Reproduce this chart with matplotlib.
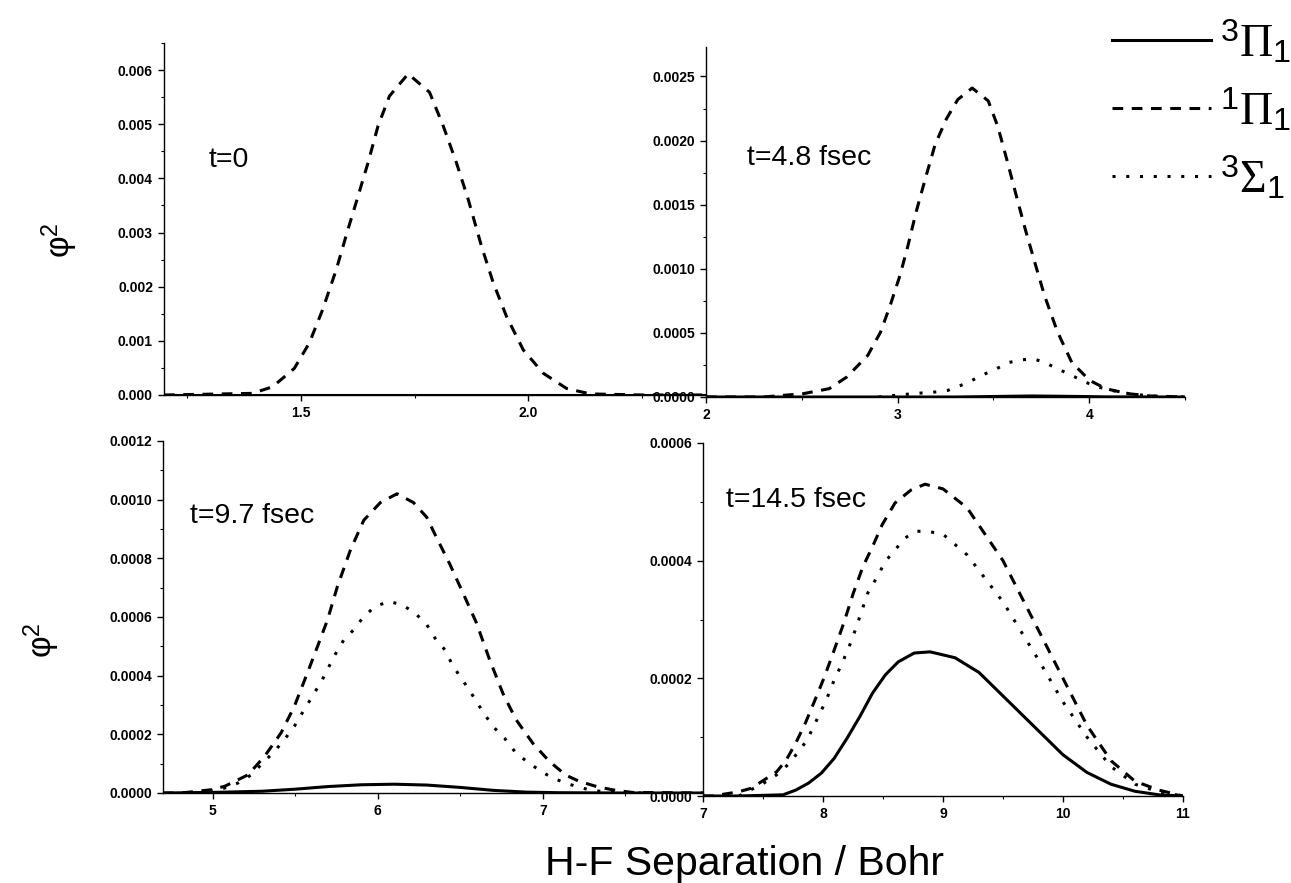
import matplotlib.pyplot as plt
from matplotlib.ticker import MultipleLocator, FormatStrFormatter

plt.rcParams['font.family'] = ['Liberation Sans', 'DejaVu Sans']
plt.rcParams['mathtext.fontset'] = 'custom'
plt.rcParams['mathtext.rm'] = 'Liberation Serif'
plt.rcParams['mathtext.sf'] = 'Liberation Sans'
plt.rcParams['mathtext.it'] = 'Liberation Serif:italic'

# t = 0
x0_pi1 = [1.20, 1.394, 1.438, 1.486, 1.519, 1.548, 1.578, 1.604, 1.626, 1.648, 1.670, 1.695, 1.736,
          1.783, 1.813, 1.842, 1.868, 1.897, 1.923, 1.952, 1.989, 2.033, 2.084, 2.136, 2.25, 2.39]
y0_pi1 = [0.0, 0.00003, 0.00015, 0.00049, 0.00096, 0.00157, 0.00231, 0.00306, 0.00367, 0.00429, 0.00497,
          0.00552, 0.00593, 0.00559, 0.00497, 0.00429, 0.00361, 0.00275, 0.00207, 0.00145, 0.00083,
          0.00040, 0.00012, 0.00002, 0.0, 0.0]
x0_pi3 = [1.20, 1.5, 1.75, 2.0, 2.39]
y0_pi3 = [0.0, 0.0, 0.0, 0.0, 0.0]

# t = 4.8 fsec
x1_pi1 = [2.0, 2.3, 2.508, 2.643, 2.735, 2.844, 2.911, 2.961, 3.012, 3.054, 3.096, 3.146, 3.196, 3.255,
          3.314, 3.389, 3.473, 3.523, 3.574, 3.616, 3.666, 3.716, 3.767, 3.834, 3.909, 4.002, 4.086,
          4.203, 4.32, 4.5]
y1_pi1 = [0.0, 0.0, 0.000026, 0.000065, 0.000156, 0.000324, 0.000506, 0.000713, 0.000946, 0.00118,
          0.00144, 0.00171, 0.00197, 0.00217, 0.00232, 0.00241, 0.00231, 0.00211, 0.00183, 0.00159,
          0.00131, 0.00105, 0.00079, 0.00051, 0.00027, 0.00013, 0.000065, 0.000026, 0.000008, 0.0]
x1_sig = [2.9, 3.079, 3.196, 3.263, 3.331, 3.389, 3.456, 3.515, 3.582, 3.649, 3.708, 3.767, 3.834,
          3.893, 3.96, 4.027, 4.094, 4.17, 4.253, 4.354, 4.5]
y1_sig = [0.0, 0.000026, 0.000039, 0.000052, 0.000091, 0.00013, 0.00018, 0.00022, 0.00027, 0.00029,
          0.000298, 0.00027, 0.00022, 0.00018, 0.00013, 0.000086, 0.00006, 0.000034, 0.000018,
          0.000005, 0.0]
x1_pi3 = [2.0, 3.3, 3.5, 3.7, 3.9, 4.1, 4.5]
y1_pi3 = [0.0, 0.0, 0.000004, 0.000008, 0.000005, 0.000001, 0.0]

# t = 9.7 fsec
x2_pi1 = [4.7, 4.81, 4.99, 5.074, 5.215, 5.315, 5.415, 5.495, 5.575, 5.636, 5.696, 5.756, 5.836, 5.916,
          6.016, 6.117, 6.217, 6.297, 6.357, 6.437, 6.518, 6.598, 6.678, 6.758, 6.838, 6.939, 7.039,
          7.139, 7.219, 7.32, 7.42, 7.54, 7.97]
y2_pi1 = [0.0, 0.0, 0.000011, 0.000023, 0.000062, 0.000125, 0.000205, 0.000295, 0.00041, 0.0005,
          0.00059, 0.000704, 0.00083, 0.00093, 0.00099, 0.00102, 0.00099, 0.00094, 0.00087, 0.00078,
          0.00068, 0.00058, 0.000454, 0.00034, 0.00025, 0.00017, 0.000108, 0.000061, 0.00004,
          0.000023, 0.000011, 0.000002, 0.0]
x2_sig = [4.9, 5.074, 5.154, 5.235, 5.295, 5.375, 5.435, 5.495, 5.555, 5.616, 5.676, 5.736, 5.796,
          5.856, 5.916, 5.986, 6.067, 6.147, 6.227, 6.297, 6.347, 6.407, 6.447, 6.497, 6.547, 6.598,
          6.648, 6.708, 6.768, 6.838, 6.919, 6.989, 7.059, 7.139, 7.199, 7.28, 7.36, 7.6]
y2_sig = [0.0, 0.000017, 0.000034, 0.000062, 0.000097, 0.000142, 0.000182, 0.000227, 0.000284,
          0.00034, 0.000398, 0.000466, 0.000523, 0.000557, 0.000602, 0.000636, 0.000653, 0.000642,
          0.000613, 0.000574, 0.000528, 0.000488, 0.000443, 0.000398, 0.000358, 0.000312, 0.000267,
          0.000221, 0.000187, 0.000136, 0.000101, 0.000074, 0.000051, 0.000034, 0.000023, 0.000011,
          0.000005, 0.0]
x2_pi3 = [4.7, 5.0, 5.3, 5.5, 5.7, 5.9, 6.1, 6.3, 6.5, 6.7, 6.9, 7.1, 7.5, 7.97]
y2_pi3 = [0.0, 0.000002, 0.000006, 0.000013, 0.000022, 0.000028, 0.00003, 0.000027, 0.000019,
          0.000009, 0.000003, 0.000001, 0.0, 0.0]

# t = 14.5 fsec
x3_pi1 = [7.0, 7.08, 7.293, 7.4, 7.507, 7.613, 7.693, 7.773, 7.853, 7.933, 8.013, 8.093, 8.173, 8.253,
          8.333, 8.413, 8.493, 8.6, 8.733, 8.85, 9.0, 9.2, 9.5, 9.8, 10.0, 10.2, 10.4, 10.6, 10.8, 11.0]
y3_pi1 = [0.0, 0.0, 0.000007, 0.000013, 0.000027, 0.000041, 0.000061, 0.00009, 0.000124, 0.000163,
          0.000203, 0.000248, 0.000294, 0.000345, 0.00039, 0.000424, 0.000461, 0.000498, 0.00052,
          0.00053, 0.000522, 0.00049, 0.0004, 0.00028, 0.0002, 0.00012, 0.00006, 0.000025, 0.00001, 0.0]
x3_sig = [7.3, 7.507, 7.613, 7.707, 7.787, 7.867, 7.947, 8.027, 8.093, 8.16, 8.24, 8.307, 8.373, 8.453,
          8.52, 8.6, 8.68, 8.773, 8.867, 9.0, 9.2, 9.5, 9.8, 10.0, 10.2, 10.4, 10.6, 10.8, 11.0]
y3_sig = [0.0, 0.000022, 0.000036, 0.000053, 0.000073, 0.000095, 0.000129, 0.000163, 0.000197,
          0.000226, 0.000265, 0.000305, 0.000345, 0.000373, 0.000399, 0.000418, 0.000438, 0.00045,
          0.00045, 0.000445, 0.00041, 0.00033, 0.00023, 0.00016, 0.0001, 0.00005, 0.00002, 0.000007, 0.0]
x3_pi3 = [7.0, 7.29, 7.667, 7.773, 7.88, 7.987, 8.093, 8.2, 8.307, 8.413, 8.52, 8.627, 8.76, 8.893,
          9.1, 9.3, 9.5, 9.8, 10.0, 10.2, 10.4, 10.6, 10.8, 11.0]
y3_pi3 = [0.0, 0.0, 0.000002, 0.00001, 0.000022, 0.000039, 0.000064, 0.000098, 0.000135, 0.000175,
          0.000206, 0.000228, 0.000243, 0.000245, 0.000235, 0.00021, 0.00017, 0.00011, 0.00007,
          0.00004, 0.00002, 0.000008, 0.000002, 0.0]

labels = [r'$^{\mathsf{3}}\Pi_{\mathsf{1}}$', r'$^{\mathsf{1}}\Pi_{\mathsf{1}}$', r'$^{\mathsf{3}}\Sigma_{\mathsf{1}}$']
times = ['t=0', 't=4.8 fsec', 't=9.7 fsec', 't=14.5 fsec']

W, H = 1291, 883
fig = plt.figure(figsize=(W / 100, H / 100), dpi=100)

def box(l, r, t, b):
    return [l / W, 1 - b / H, (r - l) / W, (b - t) / H]

ax1 = fig.add_axes(box(164, 706, 43, 395))
ax2 = fig.add_axes(box(706, 1185, 47, 397))
ax3 = fig.add_axes(box(163, 703, 441, 793))
ax4 = fig.add_axes(box(703, 1183, 443, 796))

solid = dict(color='black', lw=2.2, ls='-')
dash = dict(color='black', lw=2.2, ls=(0, (3.5, 2.8)))
dot = dict(color='black', lw=2.2, ls=(0, (1, 3.5)))

ax1.plot(x0_pi3, y0_pi3, **solid)
ax1.plot(x0_pi1, y0_pi1, **dash)

ax2.plot(x1_pi3, y1_pi3, **solid)
ax2.plot(x1_sig, y1_sig, **dot)
ax2.plot(x1_pi1, y1_pi1, **dash)

ax3.plot(x2_pi3, y2_pi3, **solid)
ax3.plot(x2_sig, y2_sig, **dot)
ax3.plot(x2_pi1, y2_pi1, **dash)

l1, = ax4.plot(x3_pi3, y3_pi3, **solid)
l3, = ax4.plot(x3_sig, y3_sig, **dot)
l2, = ax4.plot(x3_pi1, y3_pi1, **dash)

def setup(ax, xlim, ylim, xmaj, ymaj, xfmt, yfmt):
    ax.set_xlim(*xlim)
    ax.set_ylim(*ylim)
    ax.xaxis.set_major_locator(MultipleLocator(xmaj))
    ax.xaxis.set_minor_locator(MultipleLocator(xmaj / 2))
    ax.yaxis.set_major_locator(MultipleLocator(ymaj))
    ax.yaxis.set_minor_locator(MultipleLocator(ymaj / 2))
    ax.xaxis.set_major_formatter(FormatStrFormatter(xfmt))
    ax.yaxis.set_major_formatter(FormatStrFormatter(yfmt))
    for s in ['top', 'right']:
        ax.spines[s].set_visible(False)
    for s in ['left', 'bottom']:
        ax.spines[s].set_linewidth(1.0)
    ax.tick_params(which='major', direction='out', length=4, width=1, labelsize=10, pad=4)
    ax.tick_params(which='minor', direction='out', length=2.5, width=0.8)
    for lbl in ax.get_xticklabels() + ax.get_yticklabels():
        lbl.set_fontweight('bold')
    ax.patch.set_alpha(0)

setup(ax1, (1.2, 2.39), (0, 0.0065), 0.5, 0.001, '%.1f', '%.3f')
setup(ax2, (2.0, 4.5), (0, 0.00273), 1, 0.0005, '%d', '%.4f')
setup(ax3, (4.7, 7.97), (0, 0.0012), 1, 0.0002, '%d', '%.4f')
setup(ax4, (7.0, 11.0), (0, 0.0006), 1, 0.0002, '%d', '%.4f')

# panel time labels (pixel positions of text baseline)
for t, (px, py) in zip(times, [(209, 167), (747, 165), (190, 523), (726, 507)]):
    fig.text(px / W, 1 - py / H, t, fontsize=20.5, ha='left', va='baseline')

phi = r'$\mathsf{\varphi}^{\mathsf{2}}$'
fig.text(60 / W, 1 - 240 / H, phi, fontsize=24, rotation=90, ha='center', va='center')
fig.text(42 / W, 1 - 640 / H, phi, fontsize=24, rotation=90, ha='center', va='center')

fig.text(545 / W, 1 - 875 / H, 'H-F Separation / Bohr', fontsize=29.5, ha='left', va='baseline')

fig.legend([l1, l2, l3], labels, loc='upper left', bbox_to_anchor=(1112 / W, 1 - 19 / H),
           frameon=False, fontsize=33, handlelength=2.15, handletextpad=0.2,
           borderpad=0, borderaxespad=0, labelspacing=0.45)

fig.savefig('out.png', dpi=100)
